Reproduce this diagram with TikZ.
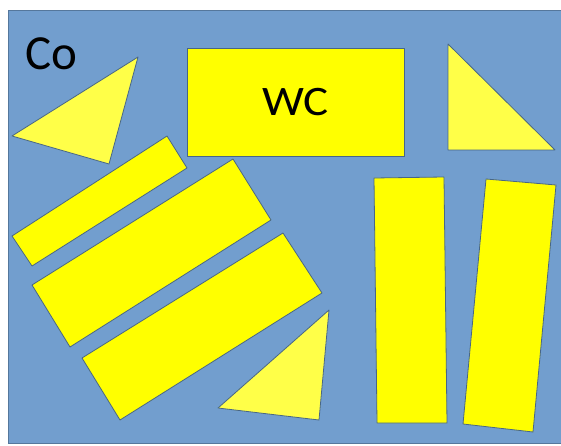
\documentclass[tikz,border=0pt]{standalone}
\usepackage{fontspec}
\setmainfont{Carlito}
\definecolor{cobalt}{RGB}{114,158,206}
\definecolor{grainyellow}{RGB}{255,255,0}
\definecolor{cornyellow}{RGB}{255,255,72}
\definecolor{grainedge}{RGB}{72,102,134}

\begin{document}
\begin{tikzpicture}[x=1pt, y=-1pt,
		grain/.style={fill=grainyellow, draw=grainedge, line width=0.8pt, line join=round},
		corner/.style={grain, fill=cornyellow}]
			\useasboundingbox (0,0) rectangle (561,446);
			\fill[white] (0,0) rectangle (561,446);
			\draw[fill=cobalt, draw=grainedge!70!cobalt, line width=0.8pt] (8,10) rectangle (563,443);
			
			\node[anchor=base west, font=\fontsize{49}{50}\selectfont, inner sep=0pt] (co) at (25,69.5) {Co};
			
			% triangles
			\draw[corner] (138,57) -- (12,136) -- (109,164) -- cycle;
			\draw[corner] (448,44) -- (448,150) -- (555,150) -- cycle;
			\draw[corner] (329,310) -- (218,408) -- (319,420) -- cycle;
			
			% WC block
			\node[grain, minimum width=217, minimum height=108, inner sep=0pt,
				font=\fontsize{42}{44}\selectfont] (wc) at (295.5,102) {\scalebox{1.12}[1]{WC}};
			
			% slanted bars
			\draw[grain] (12,236) -- (167,136) -- (187,168) -- (32,266) -- cycle;
			\draw[grain] (32,285) -- (233,159) -- (271,220) -- (70,347) -- cycle;
			\draw[grain] (82,358) -- (283,233) -- (322,293) -- (120,420) -- cycle;
			
			% upright bars
			\draw[grain] (374,178) -- (444,177) -- (447,423) -- (377,423) -- cycle;
			\draw[grain] (486,179) -- (556,185) -- (533,432) -- (463,424) -- cycle;

		\end{tikzpicture}
\end{document}
